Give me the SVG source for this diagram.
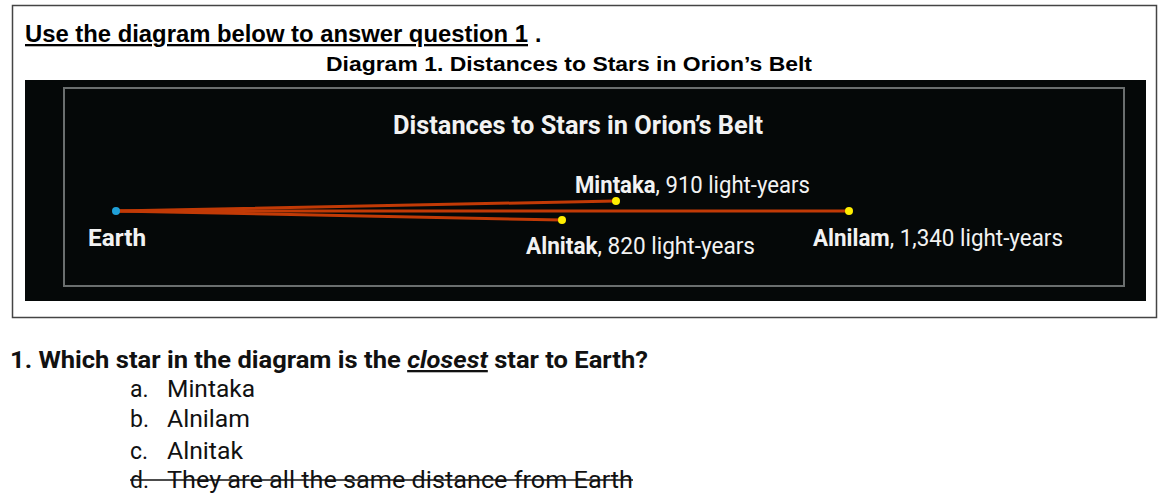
<svg xmlns="http://www.w3.org/2000/svg" width="1163" height="498" viewBox="0 0 1163 498">
<style>
.hdr{font-family:"Liberation Sans",Arial,sans-serif;font-weight:bold;fill:#000}
.pt{font-family:"Roboto","Liberation Sans",sans-serif;fill:#f2f2f2}
.q{font-family:"Roboto","Liberation Sans",sans-serif;fill:#111;font-size:23px}
.ln{stroke:#c23a06;stroke-width:3;fill:none;stroke-linecap:round}
.star{fill:#ffee00}
</style>
<rect x="0" y="0" width="1163" height="498" fill="#fff"/>
<rect x="12.5" y="5.5" width="1144" height="312" fill="none" stroke="#444" stroke-width="1.5"/>
<text class="hdr" x="25" y="42" font-size="23" textLength="503" lengthAdjust="spacingAndGlyphs" text-decoration="underline">Use the diagram below to answer question 1 </text>
<text class="hdr" x="535" y="42" font-size="23">.</text>
<text class="hdr" x="569" y="71" font-size="20" text-anchor="middle" textLength="486" lengthAdjust="spacingAndGlyphs">Diagram 1. Distances to Stars in Orion’s Belt</text>
<rect x="25" y="80" width="1121" height="221" fill="#050808"/>
<rect x="64" y="88" width="1060" height="198" fill="none" stroke="#6a6e6e" stroke-width="2"/>
<text class="pt" x="578" y="134" font-size="26" font-weight="bold" text-anchor="middle" textLength="370" lengthAdjust="spacingAndGlyphs">Distances to Stars in Orion’s Belt</text>
<g id="connectors">
<line class="ln" x1="116" y1="211" x2="616" y2="201"/>
<line class="ln" x1="116" y1="211" x2="849" y2="211"/>
<line class="ln" x1="116" y1="211" x2="562" y2="220"/>
</g>
<g id="earth">
<circle cx="116" cy="211" r="4" fill="#1fa0d8"/>
<text class="pt" x="88" y="246" font-size="23" font-weight="bold" textLength="58" lengthAdjust="spacingAndGlyphs">Earth</text>
</g>
<g id="mintaka">
<circle class="star" cx="616" cy="201" r="4"/>
<text class="pt" x="575" y="193" font-size="23" textLength="235" lengthAdjust="spacingAndGlyphs"><tspan font-weight="bold">Mintaka</tspan>, 910 light-years</text>
</g>
<g id="alnitak">
<circle class="star" cx="562" cy="220" r="4"/>
<text class="pt" x="526" y="254" font-size="23" textLength="229" lengthAdjust="spacingAndGlyphs"><tspan font-weight="bold">Alnitak</tspan>, 820 light-years</text>
</g>
<g id="alnilam">
<circle class="star" cx="849" cy="211" r="4"/>
<text class="pt" x="813" y="246" font-size="23" textLength="250" lengthAdjust="spacingAndGlyphs"><tspan font-weight="bold">Alnilam</tspan>, 1,340 light-years</text>
</g>
<text class="q" x="10" y="368" font-size="24" font-weight="bold" textLength="638" lengthAdjust="spacingAndGlyphs">1. Which star in the diagram is the <tspan font-style="italic" text-decoration="underline">closest</tspan> star to Earth?</text>
<text class="q" x="130" y="397">a.</text><text class="q" x="167" y="397" textLength="88" lengthAdjust="spacingAndGlyphs">Mintaka</text>
<text class="q" x="130" y="427">b.</text><text class="q" x="167" y="427" textLength="83" lengthAdjust="spacingAndGlyphs">Alnilam</text>
<text class="q" x="130" y="459">c.</text><text class="q" x="167" y="459" textLength="76" lengthAdjust="spacingAndGlyphs">Alnitak</text>
<text class="q" x="130" y="488">d.</text><text class="q" x="167" y="488" textLength="466" lengthAdjust="spacingAndGlyphs">They are all the same distance from Earth</text>
<line x1="130" y1="480" x2="633" y2="480" stroke="#111" stroke-width="1.5"/>
</svg>
